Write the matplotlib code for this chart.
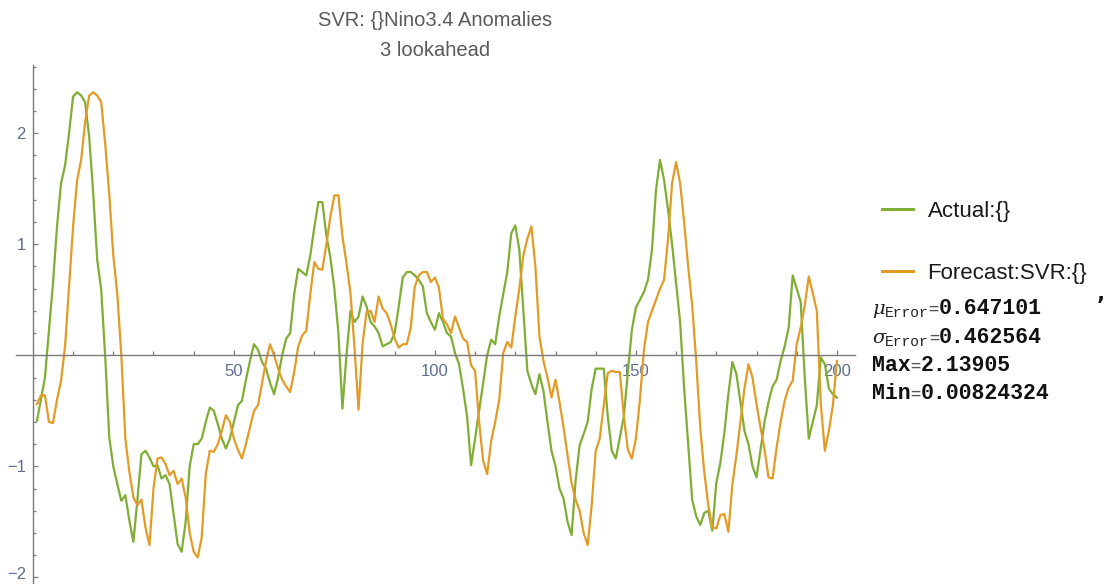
import numpy as np
import matplotlib
matplotlib.use("Agg")
import matplotlib.pyplot as plt
import matplotlib.transforms as mtransforms
from matplotlib.ticker import FixedLocator, NullFormatter

# Nino3.4 anomalies: observed series and SVR forecast (3-step lookahead)
actual = [
    -0.59, -0.40, -0.20, 0.23, 0.65, 1.16, 1.55, 1.71, 2.00, 2.33,
    2.37, 2.34, 2.28, 1.97, 1.46, 0.86, 0.59, -0.02, -0.74, -1.00,
    -1.16, -1.31, -1.26, -1.49, -1.68, -1.30, -0.89, -0.86, -0.92, -1.00,
    -0.99, -1.11, -1.08, -1.16, -1.43, -1.70, -1.77, -1.50, -1.00, -0.80,
    -0.80, -0.75, -0.60, -0.47, -0.50, -0.62, -0.75, -0.84, -0.75, -0.60,
    -0.45, -0.41, -0.22, -0.05, 0.10, 0.05, -0.06, -0.12, -0.25, -0.35,
    -0.20, 0.00, 0.15, 0.20, 0.55, 0.78, 0.75, 0.72, 0.90, 1.15,
    1.38, 1.38, 1.08, 0.88, 0.60, 0.20, -0.48, 0.00, 0.40, 0.30,
    0.35, 0.53, 0.44, 0.30, 0.26, 0.20, 0.08, 0.10, 0.12, 0.20,
    0.44, 0.70, 0.75, 0.75, 0.72, 0.68, 0.62, 0.38, 0.30, 0.23,
    0.38, 0.30, 0.20, 0.17, 0.02, -0.08, -0.30, -0.55, -0.99, -0.75,
    -0.50, -0.25, 0.00, 0.14, 0.10, 0.35, 0.55, 0.75, 1.10, 1.17,
    0.95, 0.40, -0.14, -0.26, -0.35, -0.17, -0.32, -0.60, -0.86, -1.00,
    -1.20, -1.29, -1.50, -1.62, -1.13, -0.81, -0.71, -0.60, -0.30, -0.12,
    -0.12, -0.12, -0.55, -0.86, -0.93, -0.74, -0.55, -0.15, 0.23, 0.43,
    0.50, 0.57, 0.68, 0.95, 1.49, 1.76, 1.58, 1.31, 1.00, 0.65,
    0.30, -0.30, -0.80, -1.30, -1.45, -1.53, -1.42, -1.40, -1.58, -1.15,
    -0.97, -0.70, -0.35, -0.06, -0.17, -0.42, -0.68, -0.80, -1.00, -1.10,
    -0.85, -0.60, -0.42, -0.28, -0.22, -0.05, 0.08, 0.25, 0.72, 0.60,
    0.48, -0.20, -0.75, -0.60, -0.45, -0.02, -0.08, -0.30, -0.35, -0.38,
]

forecast = [
    -0.44, -0.36, -0.36, -0.60, -0.61, -0.40, -0.23, 0.08, 0.62, 1.16,
    1.58, 1.76, 2.10, 2.34, 2.37, 2.34, 2.28, 1.90, 1.45, 0.90,
    0.55, 0.00, -0.75, -1.05, -1.28, -1.35, -1.30, -1.55, -1.71, -1.20,
    -0.93, -0.92, -0.98, -1.08, -1.04, -1.16, -1.11, -1.28, -1.60, -1.77,
    -1.82, -1.64, -1.07, -0.86, -0.87, -0.80, -0.68, -0.54, -0.60, -0.75,
    -0.85, -0.93, -0.80, -0.65, -0.50, -0.45, -0.25, -0.05, 0.10, 0.00,
    -0.12, -0.22, -0.28, -0.33, -0.15, 0.08, 0.18, 0.22, 0.55, 0.84,
    0.78, 0.77, 1.00, 1.25, 1.44, 1.44, 1.07, 0.83, 0.56, 0.07,
    -0.49, 0.10, 0.39, 0.40, 0.30, 0.53, 0.42, 0.38, 0.28, 0.15,
    0.07, 0.10, 0.10, 0.25, 0.62, 0.72, 0.75, 0.75, 0.66, 0.70,
    0.61, 0.33, 0.28, 0.20, 0.35, 0.25, 0.15, 0.12, -0.09, -0.14,
    -0.60, -0.95, -1.07, -0.77, -0.60, -0.40, 0.02, 0.12, 0.07, 0.35,
    0.60, 0.90, 1.05, 1.16, 0.80, 0.17, -0.05, -0.20, -0.38, -0.22,
    -0.42, -0.65, -0.90, -1.15, -1.30, -1.40, -1.60, -1.71, -1.35, -0.86,
    -0.75, -0.45, -0.16, -0.14, -0.15, -0.15, -0.55, -0.85, -0.93, -0.75,
    -0.40, 0.05, 0.30, 0.40, 0.50, 0.60, 0.68, 1.05, 1.55, 1.74,
    1.55, 1.20, 0.80, 0.45, -0.05, -0.65, -1.05, -1.35, -1.55, -1.56,
    -1.44, -1.43, -1.59, -1.16, -0.90, -0.60, -0.30, -0.08, -0.20, -0.44,
    -0.65, -0.85, -1.10, -1.11, -0.83, -0.60, -0.41, -0.29, -0.23, 0.10,
    0.25, 0.45, 0.71, 0.56, 0.40, -0.44, -0.86, -0.68, -0.45, -0.05,
]

steps = np.arange(1, len(actual) + 1)

x_major = [50, 100, 150, 200]
x_minor = [10, 20, 30, 40, 60, 70, 80, 90, 110, 120, 130, 140,
           160, 170, 180, 190]
y_major = [-2, -1, 1, 2]
y_minor = [-1.8, -1.6, -1.4, -1.2, -0.8, -0.6, -0.4, -0.2, 0.2, 0.4,
           0.6, 0.8, 1.2, 1.4, 1.6, 1.8, 2.2, 2.4, 2.6]

series_labels = ["Actual:{}", "Forecast:SVR:{}"]
stat_names = ["\u03bc", "\u03c3", "Max", "Min"]
stat_values = ["0.647101", "0.462564", "2.13905", "0.00824324"]

GREEN = "#80ad33"
ORANGE = "#e29c26"
AXIS = "#7a7a7a"
TICKLABEL = "#5f6d8e"

W, H = 1110, 584
fig = plt.figure(figsize=(W / 100, H / 100), dpi=100)
ax = fig.add_axes([16 / W, 0, 839 / W, 519 / H])

ax.plot(steps, actual, color=GREEN, lw=1.6, label=series_labels[0],
        solid_joinstyle="round")
ax.plot(steps, forecast, color=ORANGE, lw=1.6, label=series_labels[1],
        solid_joinstyle="round")

ax.set_xlim(-4.2, 204.5)
ax.set_ylim(-2.06, 2.615)

for side in ("top", "right"):
    ax.spines[side].set_visible(False)
ax.spines["left"].set_position(("data", 0))
ax.spines["bottom"].set_position(("data", 0))
for side in ("left", "bottom"):
    ax.spines[side].set_color(AXIS)
    ax.spines[side].set_linewidth(1.0)

ax.xaxis.set_major_locator(FixedLocator(x_major))
ax.xaxis.set_minor_locator(FixedLocator(x_minor))
ax.yaxis.set_major_locator(FixedLocator(y_major))
ax.yaxis.set_minor_locator(FixedLocator(y_minor))
ax.xaxis.set_minor_formatter(NullFormatter())
ax.yaxis.set_minor_formatter(NullFormatter())
ax.set_xticklabels([str(v) for v in x_major])
ax.set_yticklabels(["\u2212" + str(-v) if v < 0 else str(v) for v in y_major])

ax.tick_params(axis="both", which="both", direction="in", color=AXIS,
               width=0.9, labelcolor=TICKLABEL, labelsize=12)
ax.tick_params(axis="x", which="major", length=3.6, pad=6.5)
ax.tick_params(axis="x", which="minor", length=2.8)
ax.tick_params(axis="y", which="major", length=3.4, pad=5)
ax.tick_params(axis="y", which="minor", length=2.5)
for lab in ax.get_xticklabels() + ax.get_yticklabels():
    lab.set_fontfamily("Liberation Sans")

# keep the lowest y label inside the canvas
low = ax.get_yticklabels()[0]
low.set_transform(low.get_transform() + mtransforms.ScaledTranslation(
    0, 3 / 72, fig.dpi_scale_trans))

ax.patch.set_alpha(0)

# Two-line title above the plot
fig.text(435 / W, 1 - 20 / H, "SVR: {}Nino3.4 Anomalies", ha="center",
         va="center", fontsize=14.5, color="#5a5a5a",
         family="Liberation Sans")
fig.text(435 / W, 1 - 50 / H, "3 lookahead", ha="center", va="center",
         fontsize=14.5, color="#5a5a5a", family="Liberation Sans")

# Legend to the right of the axes
leg = ax.legend(loc="upper left", bbox_to_anchor=(882 / W, 1 - 201 / H),
                bbox_transform=fig.transFigure, frameon=False,
                prop={"family": "Liberation Sans", "size": 16},
                handlelength=1.4, handletextpad=0.65, labelspacing=1.85,
                borderpad=0, borderaxespad=0)
for h in leg.get_lines():
    h.set_linewidth(2.2)
for t in leg.get_texts():
    t.set_color("#1a1a1a")

# Error statistics block, composed piece by piece
renderer = fig.canvas.get_renderer()


def place_row(x_px, base_px, pieces):
    x = x_px
    for text, kw, dy in pieces:
        t = fig.text(x / W, 1 - (base_px + dy) / H, text, va="baseline",
                     **kw)
        bb = t.get_window_extent(renderer)
        x = bb.x1


mono = {"family": "Liberation Mono", "size": 15.5, "color": "#111111",
        "weight": "bold"}
sub = {"family": "Liberation Mono", "size": 10.5, "color": "#222222"}
greek = {"family": "DejaVu Serif", "size": 14, "style": "italic",
         "color": "#222222"}
eq = {"family": "DejaVu Sans Mono", "size": 12, "color": "#555555"}

baselines = [314, 343, 371, 399]
for name, val, base in zip(stat_names, stat_values, baselines):
    if len(name) == 1:
        pieces = [(name, greek, 0), ("Error", sub, 3), ("=", eq, 0),
                  (val, mono, 0)]
    else:
        pieces = [(name, mono, 0), ("=", eq, 0), (val, mono, 0)]
    place_row(872, base, pieces)

fig.text(1101 / W, 1 - 306 / H, "\u2019", ha="center", va="center",
         fontsize=15, color="#111111", family="DejaVu Sans",
         weight="bold")

fig.savefig("out.png", dpi=100)
